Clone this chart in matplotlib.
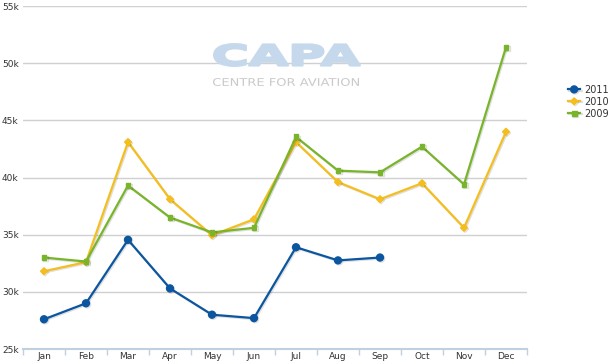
import numpy as np
import matplotlib.pyplot as plt
import matplotlib.patheffects as pe
from matplotlib.textpath import TextPath
from matplotlib.font_manager import FontProperties
from matplotlib.patches import PathPatch
from matplotlib.transforms import Affine2D

months = ['Jan', 'Feb', 'Mar', 'Apr', 'May', 'Jun',
          'Jul', 'Aug', 'Sep', 'Oct', 'Nov', 'Dec']
y2011 = [27.6, 29.0, 34.55, 30.3, 28.0, 27.7, 33.9, 32.75, 33.0]
y2010 = [31.8, 32.6, 43.1, 38.1, 34.95, 36.35, 43.1, 39.6, 38.1, 39.5, 35.6, 44.0]
y2009 = [33.0, 32.65, 39.3, 36.5, 35.2, 35.6, 43.55, 40.6, 40.45, 42.7, 39.4, 51.4]
yticks = [25, 30, 35, 40, 45, 50, 55]

W, H = 610, 362
fig = plt.figure(figsize=(W / 100, H / 100), dpi=100)
ax = fig.add_axes([23 / W, 1 - 349 / H, 504 / W, 343 / H])


def watermark(text, x0, x1, ytop, ybot, color, weight, edge=0):
    # fit a text path into a pixel box (top-left origin), drawn above the grid
    tp = TextPath((0, 0), text, size=10, prop=FontProperties(family='DejaVu Sans', weight=weight))
    ext = tp.get_extents()
    pad = edge * 0.5 * 100 / 72
    sx = (x1 - x0 - 2 * pad) / ext.width
    sy = (ybot - ytop - 2 * pad) / ext.height
    tr = Affine2D().translate(-ext.x0, -ext.y0).scale(sx, sy).translate(x0 + pad, H - ybot + pad)
    ax.add_artist(PathPatch(tp, transform=tr, fc=color, ec=color if edge else 'none',
                            lw=edge, joinstyle='round', zorder=1.5))


watermark('CAPA', 213, 361, 43, 67, '#C6D9EC', 'bold', edge=1.8)
watermark('CENTRE FOR AVIATION', 213, 359, 78, 86, '#CACACA', 'normal')

shadow = [pe.SimpleLineShadow(offset=(0.8, -0.8), alpha=0.12, shadow_color='black'), pe.Normal()]

x = np.arange(len(months))
ax.plot(x[:len(y2011)], y2011, color='#0C56A0', lw=1.6, marker='o', ms=5,
        label='2011', zorder=3, path_effects=shadow)
ax.plot(x, y2010, color='#F5BE1F', lw=1.6, marker='D', ms=3.5,
        label='2010', zorder=4, path_effects=shadow)
ax.plot(x, y2009, color='#78B52B', lw=1.6, marker='s', ms=3.5,
        label='2009', zorder=5, path_effects=shadow)

ax.set_xlim(-0.5, 11.5)
ax.set_ylim(25, 55)
ax.set_yticks(yticks)
ax.set_yticklabels([f'{v}k' for v in yticks])
ax.set_xticks(x)
ax.set_xticklabels(months)
ax.set_xticks(np.arange(-0.5, 12, 1), minor=True)

ax.tick_params(axis='y', length=0, pad=0, labelsize=6.5, labelcolor='#333333')
ax.tick_params(axis='x', which='major', length=0, pad=2, labelsize=6.5, labelcolor='#333333')
ax.tick_params(axis='x', which='minor', length=4, width=1, color='#C0D0E0')
for lbl in ax.get_yticklabels():
    lbl.set_horizontalalignment('left')
    lbl.set_x(-21 / 504)

for s in ['top', 'right', 'left']:
    ax.spines[s].set_visible(False)
ax.spines['bottom'].set_color('#C0D0E0')
ax.spines['bottom'].set_linewidth(1.5)

ax.grid(axis='y', color='#D0D0D0', lw=1)
ax.set_axisbelow(True)

ax.legend(loc='upper left', bbox_to_anchor=(561 / W, 1 - 78 / H),
          bbox_transform=fig.transFigure, frameon=False, fontsize=7,
          handlelength=1.3, handletextpad=0.35, labelspacing=0.2,
          labelcolor='#333333', borderpad=0.2)

plt.savefig('out.png', dpi=100)
